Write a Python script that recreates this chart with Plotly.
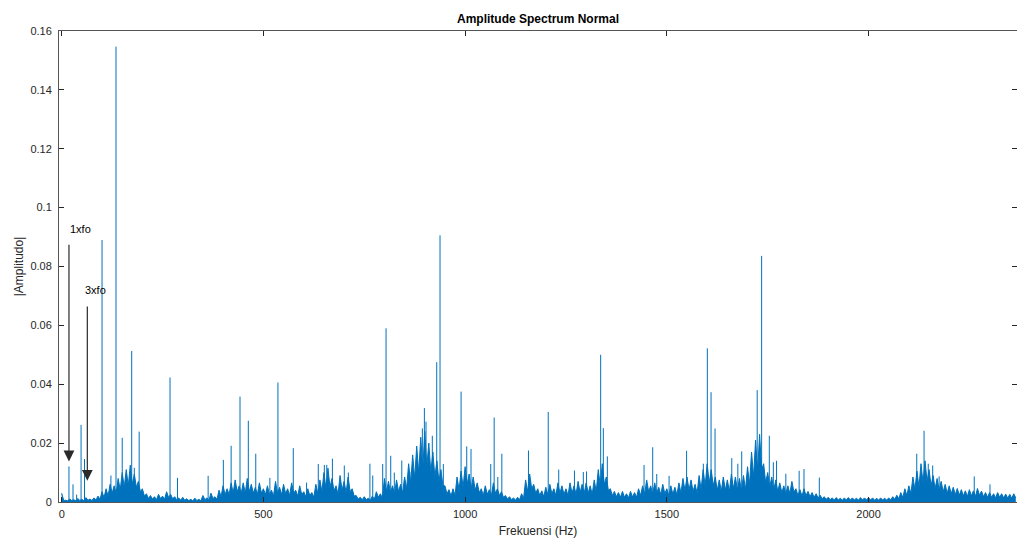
import plotly.graph_objects as go

# ---------------- data ----------------
# Broadband noise band: upper edge of the band, sampled every 5 Hz, in units of 1e-3
noise_step_hz = 5
noise_top_e3 = [
    3.0, 0.5, 0.6, 0.4, 1.0, 0.5, 0.8, 0.4, 1.2, 0.5,
    0.9, 0.4, 1.5, 0.6, 1.0, 0.5, 1.4, 0.7, 2.0, 0.9,
    3.5, 1.5, 4.5, 2.0, 6.0, 3.0, 5.5, 3.0, 8.0, 4.0,
    10.0, 5.0, 11.0, 5.5, 12.5, 6.0, 9.5, 5.0, 7.0, 3.5,
    4.5, 2.0, 2.8, 1.2, 2.2, 1.0, 1.8, 0.8, 2.6, 1.2,
    2.0, 0.9, 3.5, 1.5, 2.6, 1.1, 1.8, 0.8, 1.4, 0.6,
    1.6, 0.6, 1.1, 0.5, 0.9, 0.4, 1.3, 0.5, 0.9, 0.4,
    2.2, 0.8, 1.4, 0.6, 3.0, 1.2, 1.8, 0.9, 4.0, 1.8,
    5.5, 2.5, 4.5, 2.5, 6.5, 3.0, 7.5, 3.5, 5.5, 3.0,
    6.5, 3.0, 8.0, 3.5, 6.0, 3.0, 5.0, 2.5, 6.5, 3.0,
    4.5, 2.5, 5.5, 2.5, 4.0, 2.0, 7.0, 3.0, 5.0, 2.5,
    6.0, 2.8, 4.5, 2.2, 6.5, 3.0, 4.0, 2.0, 5.5, 2.5,
    3.5, 1.8, 4.5, 2.2, 3.2, 1.6, 6.0, 2.8, 7.5, 3.5,
    10.0, 4.5, 11.5, 5.0, 8.0, 3.8, 5.5, 2.6, 9.0, 4.0,
    7.0, 3.2, 8.5, 3.5, 4.5, 2.0, 2.2, 1.0, 1.6, 0.8,
    1.8, 0.8, 1.3, 0.6, 2.0, 0.9, 3.5, 1.6, 2.8, 1.4,
    8.0, 3.5, 7.0, 3.2, 5.5, 2.8, 7.5, 3.5, 6.0, 3.0,
    8.5, 4.5, 13.0, 6.5, 16.0, 8.0, 19.0, 10.0, 22.0, 11.0,
    24.0, 12.0, 20.0, 10.0, 17.0, 8.5, 14.0, 7.0, 11.0, 5.5,
    5.5, 2.8, 4.2, 2.0, 4.5, 2.2, 8.5, 4.0, 10.5, 5.0,
    12.0, 6.0, 9.5, 4.5, 8.5, 4.0, 6.5, 3.2, 4.5, 2.2,
    5.5, 2.6, 4.2, 2.0, 6.5, 3.0, 4.5, 2.2, 3.5, 1.6,
    2.2, 1.0, 1.8, 0.8, 1.4, 0.6, 1.6, 0.8, 2.8, 1.3,
    7.5, 3.5, 9.5, 4.5, 6.0, 3.0, 4.5, 2.2, 3.8, 1.8,
    5.0, 2.5, 6.0, 2.8, 4.5, 2.2, 6.5, 3.0, 5.5, 2.6,
    4.5, 2.2, 6.5, 3.0, 5.5, 2.6, 7.0, 3.2, 6.0, 2.8,
    6.5, 3.0, 5.5, 2.6, 7.5, 3.5, 11.0, 5.5, 13.0, 6.0,
    8.5, 4.0, 4.5, 2.2, 3.6, 1.8, 3.2, 1.6, 3.6, 1.6,
    2.8, 1.4, 3.6, 1.7, 3.2, 1.6, 4.5, 2.2, 5.5, 2.6,
    7.5, 3.5, 5.5, 2.6, 6.5, 3.0, 5.0, 2.5, 6.0, 2.8,
    4.5, 2.2, 5.5, 2.6, 5.0, 2.4, 6.5, 3.0, 8.0, 3.8,
    8.5, 4.0, 7.5, 3.6, 6.0, 3.0, 9.0, 4.2, 11.0, 5.5,
    13.0, 6.5, 11.0, 5.5, 8.5, 4.0, 7.5, 3.6, 8.5, 4.0,
    7.5, 3.6, 9.5, 4.5, 8.5, 4.0, 8.0, 3.8, 9.0, 4.2,
    12.0, 6.0, 17.0, 8.5, 21.0, 10.5, 23.0, 11.0, 13.0, 6.5,
    10.0, 5.0, 8.5, 4.0, 7.5, 3.6, 6.5, 3.2, 5.5, 2.8,
    5.5, 2.8, 7.0, 3.4, 4.5, 2.2, 4.2, 2.0, 4.5, 2.2,
    3.6, 1.8, 3.2, 1.6, 2.8, 1.4, 2.3, 1.1, 1.8, 0.9,
    1.6, 0.8, 1.4, 0.7, 1.5, 0.7, 1.3, 0.6, 1.4, 0.7,
    1.5, 0.7, 1.4, 0.7, 1.3, 0.6, 1.5, 0.7, 1.4, 0.7,
    1.5, 0.7, 1.4, 0.6, 1.3, 0.6, 1.4, 0.7, 1.3, 0.6,
    1.4, 0.7, 1.8, 0.9, 2.3, 1.1, 3.2, 1.5, 4.5, 2.2,
    5.5, 2.8, 8.5, 4.2, 10.5, 5.0, 13.0, 6.5, 14.0, 7.0,
    11.0, 5.5, 9.0, 4.5, 8.0, 4.0, 7.0, 3.5, 6.0, 3.0,
    5.5, 2.8, 5.0, 2.5, 4.6, 2.3, 4.2, 2.1, 3.8, 1.9,
    4.2, 2.1, 3.8, 1.9, 4.6, 2.3, 3.7, 1.8, 3.2, 1.6,
    3.2, 1.6, 2.8, 1.4, 3.2, 1.6, 2.8, 1.4, 2.7, 1.3,
    2.6, 1.3, 2.8, 1.4,
]

# Discrete spectral lines (Hz, amplitude)
peak_freq = [
    18, 28, 37, 48, 56.5, 100, 122, 134.6, 150, 173.5, 180, 192,
    268.5, 287, 363, 400.7, 420, 442, 462.6, 481, 516, 536, 574, 607,
    636, 651, 657, 671, 700.5, 710.5, 764, 771,
    795.7, 804, 815.6, 824.5, 843, 863, 894, 899, 903, 918.7, 929.6, 937.8, 946,
    990, 1004, 1014.6, 1063.5, 1072, 1081, 1091, 1157, 1206,
    1232, 1271, 1293, 1301, 1336, 1342.6, 1352.5,
    1443.5, 1465, 1475, 1505.6, 1549, 1590.5, 1600.4, 1609.6, 1619.5,
    1661, 1676, 1685.6, 1724, 1735, 1754, 1764, 1772, 1795,
    1828, 1840, 1878, 2119.5, 2137.6, 2148, 2159, 2175, 2262, 2301,
]
peak_amp = [
    0.0121, 0.0060, 0.0025, 0.0262, 0.0146, 0.0890, 0.0090, 0.1547, 0.0218, 0.0513, 0.0116, 0.0239,
    0.0423, 0.0082, 0.0089, 0.0143, 0.0191, 0.0358, 0.0276, 0.0164, 0.0082, 0.0406, 0.0183, 0.0066,
    0.0129, 0.0126, 0.0126, 0.0147, 0.0124, 0.0100, 0.0130, 0.0090,
    0.0129, 0.0590, 0.0157, 0.0100, 0.0141, 0.0103, 0.0250, 0.0319, 0.0273, 0.0225, 0.0475, 0.0906, 0.0129,
    0.0375, 0.0189, 0.0180, 0.0129, 0.0287, 0.0085, 0.0164, 0.0175, 0.0306,
    0.0110, 0.0107, 0.0102, 0.0104, 0.0500, 0.0251, 0.0155,
    0.0126, 0.0186, 0.0095, 0.0089, 0.0174, 0.0130, 0.0522, 0.0373, 0.0250,
    0.0149, 0.0130, 0.0172, 0.0380, 0.0836, 0.0225, 0.0135, 0.0140, 0.0096,
    0.0106, 0.0112, 0.0083, 0.0164, 0.0242, 0.0130, 0.0124, 0.0087, 0.0087, 0.0060,
]

# Harmonic markers: label, arrow x, arrow head y, arrow tail y, label x, label y
marker_labels = ["1xfo", "3xfo"]
marker_x = [18, 63.5]
marker_head_y = [0.0138, 0.0072]
marker_tail_y = [0.0879, 0.0669]
marker_text_x = [16, 53.5]
marker_text_y = [0.0929, 0.0720]

x_ticks = [0, 500, 1000, 1500, 2000]
y_ticks = [0, 0.02, 0.04, 0.06, 0.08, 0.1, 0.12, 0.14, 0.16]
y_tick_text = ["0", "0.02", "0.04", "0.06", "0.08", "0.1", "0.12", "0.14", "0.16"]

# ---------------- figure ----------------
BLUE = "#0072BD"
FONT = "Liberation Sans, Arial, Helvetica, sans-serif"
AX = "#262626"

noise_x = [i * noise_step_hz for i in range(len(noise_top_e3))]
noise_y = [v / 1000.0 for v in noise_top_e3]

spike_x, spike_y = [], []
for f, a in zip(peak_freq, peak_amp):
    spike_x += [f, f, None]
    spike_y += [0, a, None]

fig = go.Figure()
fig.add_trace(go.Scatter(
    x=noise_x, y=noise_y, mode="lines", fill="tozeroy",
    fillcolor=BLUE, line=dict(color=BLUE, width=1), hoverinfo="skip",
    showlegend=False,
))
fig.add_trace(go.Scatter(
    x=spike_x, y=spike_y, mode="lines",
    line=dict(color=BLUE, width=1), showlegend=False,
))

for lab, mx, hy, ty, tx, tyy in zip(marker_labels, marker_x, marker_head_y,
                                     marker_tail_y, marker_text_x, marker_text_y):
    fig.add_annotation(
        x=mx, y=hy, ax=mx, ay=ty, xref="x", yref="y", axref="x", ayref="y",
        text="", showarrow=True, arrowhead=2, arrowsize=1.8, arrowwidth=1.2,
        arrowcolor="#2a2a2a",
    )
    fig.add_annotation(
        x=tx, y=tyy, xref="x", yref="y", text=lab, showarrow=False,
        xanchor="left", yanchor="middle",
        font=dict(family=FONT, size=11, color="#000000"),
    )

fig.update_layout(
    width=1017, height=542,
    margin=dict(l=59, r=0, t=31, b=40),
    paper_bgcolor="white", plot_bgcolor="white",
    title=dict(text="<b>Amplitude Spectrum Normal</b>", x=0.5, xref="paper",
               y=1 - 19 / 542, yref="container", yanchor="middle", xanchor="center",
               font=dict(family=FONT, size=12, color="#000000")),
    font=dict(family=FONT, size=11, color=AX),
)
fig.update_xaxes(
    range=[-6.7, 2368], tickvals=x_ticks, ticks="inside", ticklen=5,
    tickcolor=AX, showline=True, linecolor="#555555", linewidth=1, mirror="ticks",
    showgrid=False, zeroline=False, ticklabelstandoff=2,
    tickfont=dict(family=FONT, size=11, color=AX),
    title=dict(text="Frekuensi (Hz)", standoff=7,
               font=dict(family=FONT, size=12, color=AX)),
)
fig.update_yaxes(
    range=[0, 0.16], tickvals=y_ticks, ticktext=y_tick_text, ticks="inside", ticklen=5,
    tickcolor=AX, showline=True, linecolor="#555555", linewidth=1, mirror="ticks",
    showgrid=False, zeroline=False, ticklabelstandoff=4,
    tickfont=dict(family=FONT, size=11, color=AX),
    title=dict(text="|Amplitudo|", standoff=4,
               font=dict(family=FONT, size=12, color=AX)),
)

fig.write_html("out.html")
